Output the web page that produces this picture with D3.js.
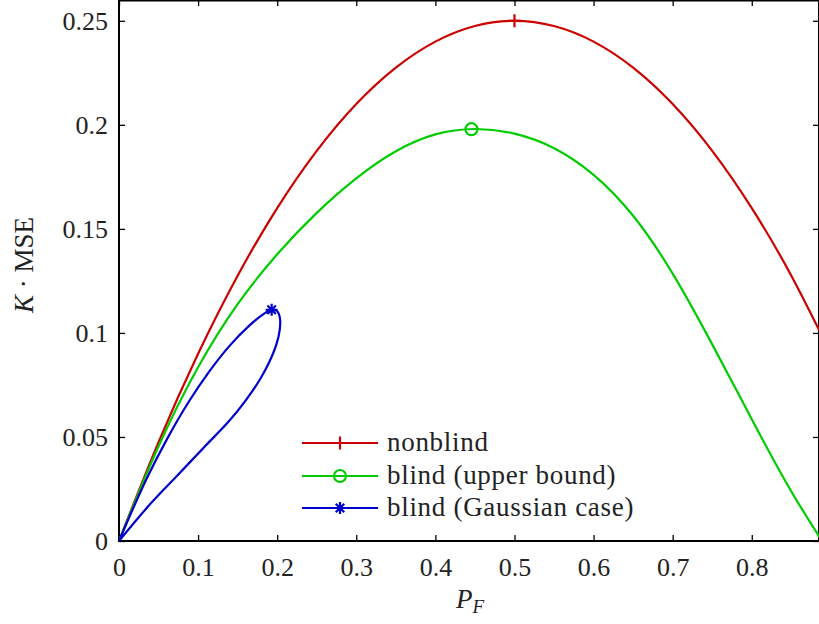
<!DOCTYPE html>
<html lang="en">
<head>
	<meta charset="UTF-8">
	<title>K MSE versus P_F</title>
	<style>
		body { margin: 0; background: #fff; }
		svg { display: block; }
		svg text { font-family: "Liberation Serif", "Times New Roman", "DejaVu Serif", serif; fill: #222; }
		.tick text { font-size: 26px; }
		.tick line { stroke: #000; stroke-width: 1.3; }
		.curve { fill: none; stroke-width: 2.2; }
	</style>
	<script src="https://d3js.org/d3.v7.min.js"></script>
</head>
<body>
	<script>
		// values
		const xTicks = [0, 0.1, 0.2, 0.3, 0.4, 0.5, 0.6, 0.7, 0.8];
		const yTicks = [0, 0.05, 0.1, 0.15, 0.2, 0.25];

		const pfGrid = [0, 0.05, 0.1, 0.15, 0.2, 0.25, 0.3, 0.35, 0.4, 0.45, 0.5, 0.55, 0.6, 0.65, 0.7, 0.75, 0.8, 0.85, 0.9];
		// nonblind
		const redY = [0, 0.0475, 0.09, 0.1275, 0.16, 0.1875, 0.21, 0.2275, 0.24, 0.2475, 0.25, 0.2475, 0.24, 0.2275, 0.21, 0.1875, 0.16, 0.1275, 0.09];
		// blind (upper bound)
		const greenY = [0, 0.0455, 0.0835, 0.1138, 0.1378, 0.1577, 0.1743, 0.1873, 0.1954, 0.1980, 0.1958, 0.1888, 0.1760, 0.1563, 0.1285, 0.0945, 0.0585, 0.0238, -0.0065];

		// blind (Gaussian case) is a closed loop, traced in order
		const blueX = [0, 0.034, 0.061, 0.088, 0.114, 0.14, 0.165, 0.18, 0.193, 0.2, 0.2035, 0.2032, 0.199, 0.19, 0.178, 0.16, 0.14, 0.11, 0.075, 0.04, 0];
		const blueY = [0, 0.0292, 0.0492, 0.0668, 0.0814, 0.0939, 0.1036, 0.1083, 0.1111, 0.1104, 0.107, 0.1015, 0.0945, 0.086, 0.0775, 0.0675, 0.058, 0.046, 0.032, 0.018, 0];

		const seriesNames = ["nonblind", "blind (upper bound)", "blind (Gaussian case)"];
		const colors = ["#cc0000", "#00cc00", "#0000cc"];
		const peaks = [[0.5, 0.25], [0.4456, 0.1979], [0.193, 0.1111]];

		const W = 819, H = 624;
		const mLeft = 119, mRight = 819, mTop = 0, mBottom = 541;

		const x = d3.scaleLinear().domain([0, 0.885]).range([mLeft, mRight]);
		const y = d3.scaleLinear().domain([0, 0.26]).range([mBottom, mTop]);

		const svg = d3.select("body").append("svg")
			.attr("width", W)
			.attr("height", H);

		svg.append("clipPath").attr("id", "plot-clip")
			.append("rect")
			.attr("x", mLeft).attr("y", mTop)
			.attr("width", mRight - mLeft).attr("height", mBottom - mTop);

		// axes, ticks pointing inward
		const fmt = d => String(d);
		svg.append("g")
			.attr("transform", `translate(0,${mBottom})`)
			.call(d3.axisBottom(x).tickValues(xTicks).tickFormat(fmt).tickSize(-6).tickPadding(17))
			.call(g => g.select(".domain").remove());
		svg.append("g")
			.attr("transform", `translate(0,${mTop})`)
			.call(d3.axisTop(x).tickValues(xTicks).tickFormat("").tickSize(-6))
			.call(g => g.select(".domain").remove());
		svg.append("g")
			.attr("transform", `translate(${mLeft},0)`)
			.call(d3.axisLeft(y).tickValues(yTicks).tickFormat(fmt).tickSize(-6).tickPadding(11))
			.call(g => g.select(".domain").remove());
		svg.append("g")
			.attr("transform", `translate(${mRight},0)`)
			.call(d3.axisRight(y).tickValues(yTicks).tickFormat("").tickSize(-6))
			.call(g => g.select(".domain").remove());

		// frame
		svg.append("rect")
			.attr("x", mLeft).attr("y", mTop + 0.5)
			.attr("width", mRight - mLeft).attr("height", mBottom - mTop - 0.5)
			.attr("fill", "none")
			.attr("stroke", "#000")
			.attr("stroke-width", 2);

		// curves
		const plot = svg.append("g").attr("clip-path", "url(#plot-clip)");

		const funcLine = d3.line()
			.x(d => x(d[0]))
			.y(d => y(d[1]))
			.curve(d3.curveNatural);
		const loopLine = d3.line()
			.x(d => x(d[0]))
			.y(d => y(d[1]))
			.curve(d3.curveCatmullRom.alpha(0.5));

		const zip = (xs, ys) => xs.map((v, i) => [v, ys[i]]);

		plot.append("path").attr("class", "curve")
			.attr("stroke", colors[0])
			.attr("d", funcLine(zip(pfGrid, redY)));
		plot.append("path").attr("class", "curve")
			.attr("stroke", colors[1])
			.attr("d", funcLine(zip(pfGrid, greenY)));
		plot.append("path").attr("class", "curve")
			.attr("stroke", colors[2])
			.attr("d", loopLine(zip(blueX, blueY)));

		function drawMarker(g, kind, cx, cy, color) {
			if (kind === 0) {
				g.append("path")
					.attr("d", `M${cx - 6.5},${cy}H${cx + 6.5}M${cx},${cy - 6.5}V${cy + 6.5}`)
					.attr("stroke", color).attr("stroke-width", 2.2).attr("fill", "none");
			} else if (kind === 1) {
				g.append("circle")
					.attr("cx", cx).attr("cy", cy).attr("r", 6)
					.attr("stroke", color).attr("stroke-width", 2.2).attr("fill", "none");
			} else {
				const r = 6;
				let d = `M${cx - r},${cy}H${cx + r}M${cx},${cy - r}V${cy + r}`;
				const a = r * Math.SQRT1_2;
				d += `M${cx - a},${cy - a}L${cx + a},${cy + a}M${cx - a},${cy + a}L${cx + a},${cy - a}`;
				g.append("path").attr("d", d)
					.attr("stroke", color).attr("stroke-width", 2.2).attr("fill", "none");
			}
		}

		peaks.forEach((p, i) => drawMarker(svg, i, x(p[0]), y(p[1]), colors[i]));

		// legend
		const legend = svg.append("g");
		const legX0 = 302, legX1 = 378, legY = [443, 476, 508];
		seriesNames.forEach((name, i) => {
			legend.append("line")
				.attr("x1", legX0).attr("x2", legX1)
				.attr("y1", legY[i]).attr("y2", legY[i])
				.attr("stroke", colors[i]).attr("stroke-width", 2.2);
			drawMarker(legend, i, (legX0 + legX1) / 2, legY[i], colors[i]);
			legend.append("text")
				.attr("x", 387).attr("y", legY[i])
				.attr("dy", "0.3em")
				.attr("font-size", 27)
				.attr("letter-spacing", 0.7)
				.text(name);
		});

		// axis titles
		const xt = svg.append("text")
			.attr("x", 456).attr("y", 608)
			.attr("font-size", 27);
		xt.append("tspan").attr("font-style", "italic").text("P");
		xt.append("tspan").attr("font-style", "italic").attr("font-size", 19).attr("dy", 5).text("F");

		const yt = svg.append("text")
			.attr("transform", `translate(33,265) rotate(-90)`)
			.attr("text-anchor", "middle")
			.attr("font-size", 27);
		yt.append("tspan").attr("font-style", "italic").text("K");
		yt.append("tspan").text(" · MSE");
	</script>
</body>
</html>
